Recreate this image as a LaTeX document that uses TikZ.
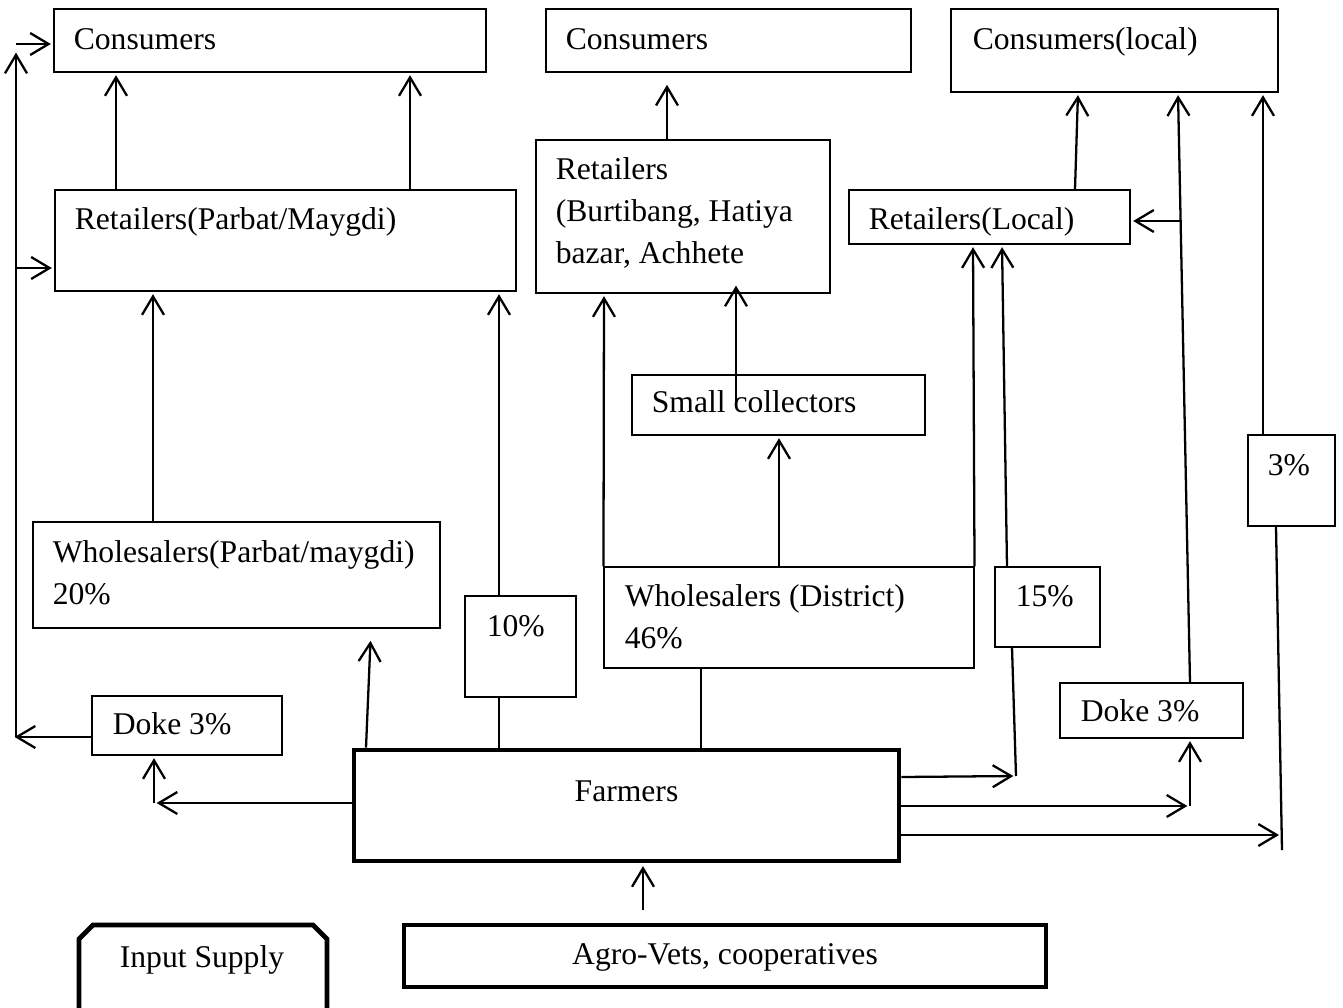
\documentclass[tikz,border=0pt]{standalone}
\usepackage{fontspec}
\setmainfont{Liberation Serif}
\usetikzlibrary{arrows.meta,fit}

\tikzset{
  box/.style={draw, line width=0.6pt, inner sep=0pt},
  heavybox/.style={draw, line width=2.8pt, inner sep=0pt},
  txt/.style={inner sep=0pt, font=\fontsize{18}{24}\selectfont},
  link/.style={line width=1.3pt},
  flow/.style={link, shorten >=1.5pt, -{Straight Barb[length=10.5pt,width=12.5pt]}},
}
\newcommand{\rows}[1]{\begin{tabular}[t]{@{}l@{}}#1\end{tabular}}

\begin{document}
\begin{tikzpicture}[x=0.02cm, y=-0.02cm]
\fill[white] (0,0) rectangle (1343,1008);
\useasboundingbox (0,0) rectangle (1343,1008);

% boxes
\node[box, fit={(54,9) (486,72)}] (cons1) {};
\node[box, fit={(546,9) (911,72)}] (cons2) {};
\node[box, fit={(951,9) (1278,92)}] (cons3) {};
\node[box, fit={(55,190) (516,291)}] (ret1) {};
\node[box, fit={(536,140) (830,293)}] (retB) {};
\node[box, fit={(849,190) (1130,244)}] (retL) {};
\node[box, fit={(632,375) (925,435)}] (smc) {};
\node[box, fit={(33,522) (440,628)}] (whs1) {};
\node[box, fit={(465,596) (576,697)}] (p10) {};
\node[box, fit={(604,567) (974,668)}] (whD) {};
\node[box, fit={(995,567) (1100,647)}] (p15) {};
\node[box, fit={(1248,435) (1335,526)}] (p3) {};
\node[box, fit={(92,696) (282,755)}] (doke1) {};
\node[box, fit={(1060,683) (1243,738)}] (doke2) {};
\node[heavybox, fit={(354,750) (899,861)}] (farm) {};
\node[heavybox, fit={(404,925) (1046,987)}] (agro) {};
\draw[line width=2.8pt] (79,1020) -- (79,939) -- (93,925) -- (313,925) -- (327,939) -- (327,1020);

% texts
\node[txt, anchor=base west] (cons1-t) at ([shift={(20,41)}]cons1.north west) {Consumers};
\node[txt, anchor=base west] (cons2-t) at ([shift={(20,41)}]cons2.north west) {Consumers};
\node[txt, anchor=base west] (cons3-t) at ([shift={(22,41)}]cons3.north west) {Consumers(local)};
\node[txt, anchor=base west] (ret1-t) at ([shift={(20,40)}]ret1.north west) {Retailers(Parbat/Maygdi)};
\node[txt, anchor=base west] (retB-t) at ([shift={(20,40)}]retB.north west) {\rows{Retailers\\(Burtibang, Hatiya\\bazar, Achhete}};
\node[txt, anchor=base west] (retL-t) at ([shift={(20,40)}]retL.north west) {Retailers(Local)};
\node[txt, anchor=base west] (smc-t) at ([shift={(20,38)}]smc.north west) {Small collectors};
\node[txt, anchor=base west] (whs1-t) at ([shift={(20,41)}]whs1.north west) {\rows{Wholesalers(Parbat/maygdi)\\20\%}};
\node[txt, anchor=base west] (p10-t) at ([shift={(22,41)}]p10.north west) {10\%};
\node[txt, anchor=base west] (whD-t) at ([shift={(21,40)}]whD.north west) {\rows{Wholesalers (District)\\46\%}};
\node[txt, anchor=base west] (p15-t) at ([shift={(21,40)}]p15.north west) {15\%};
\node[txt, anchor=base west] (p3-t) at ([shift={(20,41)}]p3.north west) {3\%};
\node[txt, anchor=base west] (doke1-t) at ([shift={(21,39)}]doke1.north west) {Doke 3\%};
\node[txt, anchor=base west] (doke2-t) at ([shift={(21,39)}]doke2.north west) {Doke 3\%};
\node[txt, anchor=base] (farm-t) at ([shift={(0,54)}]farm.north) {Farmers};
\node[txt, anchor=base] (agro-t) at ([shift={(0,42)}]agro.north) {Agro-Vets, cooperatives};
\node[txt, anchor=base] (inp) at (202,967) {Input Supply};

% free ends
\coordinate (lb) at (16,737);
\coordinate (lend) at (12,737);
\coordinate (dk1) at (154,803);
\coordinate (p15end) at (1016,776);
\coordinate (dk2) at (1190,806);
\coordinate (br) at (1182,221);
\coordinate (p3end) at (1282,850);
\coordinate (p3tip) at (1279,835);
\coordinate (agin) at (643,910);

% left side
\draw[flow] (doke1.west |- lb) -- (lend);
\draw[flow] (lb) -- (16,50);
\draw[flow] (lb |- 0,44) -- (cons1.west |- 0,44);
\draw[flow] (lb |- 0,268) -- (ret1.west |- 0,268);
\draw[flow] (farm.west |- dk1) -- (dk1);
\draw[flow] (dk1) -- (doke1.south -| dk1);

% Parbat / Maygdi
\draw[flow] (ret1.north -| 116,0) -- (cons1.south -| 116,0);
\draw[flow] (ret1.north -| 410,0) -- (cons1.south -| 410,0);
\draw[flow] (whs1.north -| 153,0) -- (ret1.south -| 153,0);
\draw[flow] (p10.north -| 499,0) -- (ret1.south -| 499,0);
\draw[link] (farm.north -| 499,0) -- (p10.south -| 499,0);
\draw[flow, shorten >=7pt] (farm.north -| 366,0) -- (whs1.south -| 371,0);

% district
\draw[flow, shorten >=7pt] (retB.north -| 667,0) -- (cons2.south -| 667,0);
\draw[flow] (whD.north west) -- (retB.south -| 604,0);
\draw[flow, shorten >=-4.5pt] (smc.center -| 736,0) -- (retB.south -| 736,0);
\draw[flow] (whD.north -| 779,0) -- (smc.south -| 779,0);
\draw[link] (farm.north -| 701,0) -- (whD.south -| 701,0);
\draw[flow] (whD.north east) -- (retL.south -| 973,0);

% local
\draw[flow] (p15.north -| 1007,0) -- (retL.south -| 1002,0);
\draw[link] (p15.south -| 1012,0) -- (p15end);
\draw[flow] (farm.east |- 0,777) -- (p15end);
\draw[flow] (farm.east |- dk2) -- (dk2);
\draw[flow] (dk2) -- (doke2.south -| dk2);
\draw[flow] (doke2.north -| dk2) -- (cons3.south -| 1178,0);
\draw[flow] (br) -- (retL.east |- br);
\draw[flow] (retL.north -| 1075,0) -- (cons3.south -| 1078,0);
\draw[flow] (p3.north -| 1263,0) -- (cons3.south -| 1263,0);
\draw[link] (p3.south -| 1276,0) -- (p3end);
\draw[flow, shorten >=0pt] (farm.east |- p3tip) -- (p3tip);

% input
\draw[flow] (agin) -- (farm.south -| agin);
\end{tikzpicture}
\end{document}
